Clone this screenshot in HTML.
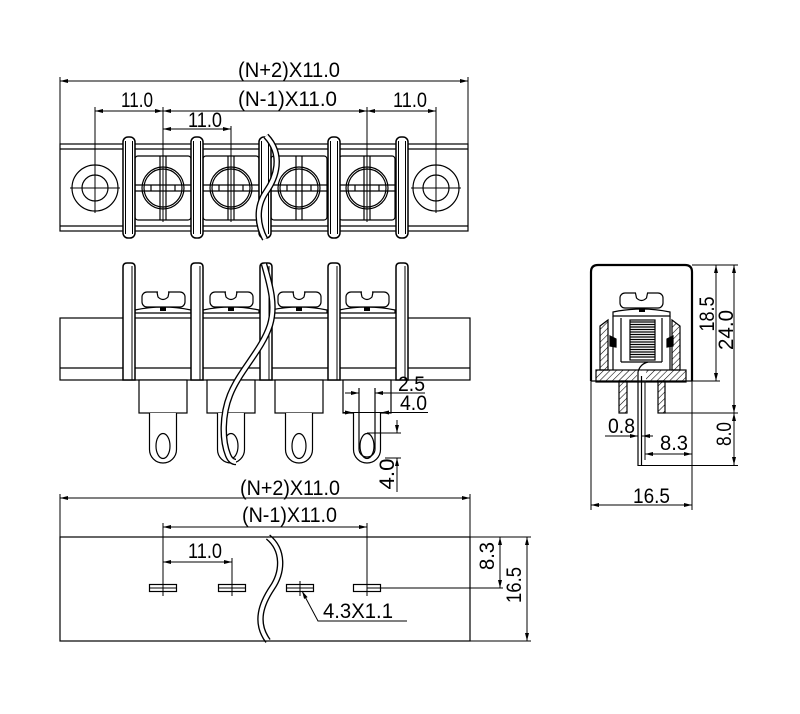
<!DOCTYPE html>
<html><head><meta charset="utf-8"><style>
html,body{margin:0;padding:0;background:#fff;}
svg{display:block}
text{font-family:"Liberation Sans",sans-serif;font-size:21px;fill:#000;stroke:none}
</style></head><body>
<svg width="800" height="714" viewBox="0 0 800 714" xmlns="http://www.w3.org/2000/svg">
<defs>
<pattern id="h" width="4.5" height="4.5" patternUnits="userSpaceOnUse" patternTransform="rotate(45)"><line x1="0" y1="0" x2="0" y2="4.5" stroke="#000" stroke-width="1.1"/></pattern>
</defs>
<rect x="0" y="0" width="800" height="714" fill="#fff"/>

<!-- ================= TOP VIEW ================= -->
<g fill="none" stroke="#000" stroke-width="1.2">
<rect x="60" y="144" width="408" height="87"/>
<line x1="60" y1="149" x2="468" y2="149"/>
<line x1="60" y1="226" x2="468" y2="226"/>

<circle cx="95" cy="188" r="23"/><circle cx="95" cy="188" r="13"/>
<line x1="70" y1="188" x2="120" y2="188" stroke-width="1"/>
<circle cx="436" cy="188" r="23"/><circle cx="436" cy="188" r="13"/>
<line x1="411" y1="188" x2="461" y2="188" stroke-width="1"/>

<g>
<rect x="135" y="156" width="56" height="64" rx="3"/>
<circle cx="163" cy="188" r="21"/><circle cx="163" cy="188" r="19"/>
<line x1="160" y1="156" x2="160" y2="220"/><line x1="166" y1="156" x2="166" y2="220"/>
<line x1="135" y1="185" x2="191" y2="185"/><line x1="135" y1="191" x2="191" y2="191"/>
<line x1="151" y1="185" x2="151" y2="191"/><line x1="175" y1="185" x2="175" y2="191"/>
</g>
<g>
<rect x="203" y="156" width="56" height="64" rx="3"/>
<circle cx="231" cy="188" r="21"/><circle cx="231" cy="188" r="19"/>
<line x1="228" y1="156" x2="228" y2="220"/><line x1="234" y1="156" x2="234" y2="220"/>
<line x1="203" y1="185" x2="259" y2="185"/><line x1="203" y1="191" x2="259" y2="191"/>
<line x1="219" y1="185" x2="219" y2="191"/><line x1="243" y1="185" x2="243" y2="191"/>
</g>
<g>
<rect x="271" y="156" width="56" height="64" rx="3"/>
<circle cx="299" cy="188" r="21"/><circle cx="299" cy="188" r="19"/>
<line x1="296" y1="156" x2="296" y2="220"/><line x1="302" y1="156" x2="302" y2="220"/>
<line x1="271" y1="185" x2="327" y2="185"/><line x1="271" y1="191" x2="327" y2="191"/>
<line x1="287" y1="185" x2="287" y2="191"/><line x1="311" y1="185" x2="311" y2="191"/>
</g>
<g>
<rect x="339" y="156" width="56" height="64" rx="3"/>
<circle cx="367" cy="188" r="21"/><circle cx="367" cy="188" r="19"/>
<line x1="364" y1="156" x2="364" y2="220"/><line x1="370" y1="156" x2="370" y2="220"/>
<line x1="339" y1="185" x2="395" y2="185"/><line x1="339" y1="191" x2="395" y2="191"/>
<line x1="355" y1="185" x2="355" y2="191"/><line x1="379" y1="185" x2="379" y2="191"/>
</g>

<g fill="#fff" stroke-width="1.5">
<rect x="123" y="137" width="12" height="101" rx="5"/>
<rect x="191" y="137" width="12" height="101" rx="5"/>
<rect x="259" y="137" width="12" height="101" rx="5"/>
<rect x="328" y="137" width="12" height="101" rx="5"/>
<rect x="396" y="137" width="12" height="101" rx="5"/>
</g>
<g stroke-width="1">
<line x1="125.5" y1="141" x2="125.5" y2="234"/><line x1="132.5" y1="141" x2="132.5" y2="234"/>
<line x1="193.5" y1="141" x2="193.5" y2="234"/><line x1="200.5" y1="141" x2="200.5" y2="234"/>
<line x1="261.5" y1="141" x2="261.5" y2="234"/><line x1="268.5" y1="141" x2="268.5" y2="234"/>
<line x1="330.5" y1="141" x2="330.5" y2="234"/><line x1="337.5" y1="141" x2="337.5" y2="234"/>
<line x1="398.5" y1="141" x2="398.5" y2="234"/><line x1="405.5" y1="141" x2="405.5" y2="234"/>
</g>
<path d="M266,136 C284,155 276,178 266,192 C255,208 258,226 265,239" stroke-width="6.5"/>
<path d="M266,136 C284,155 276,178 266,192 C255,208 258,226 265,239" stroke="#fff" stroke-width="3.8"/>

<g stroke-width="1">
<line x1="60" y1="77" x2="60" y2="144"/>
<line x1="468" y1="77" x2="468" y2="144"/>
<line x1="60" y1="81" x2="468" y2="81"/>
<line x1="95" y1="111" x2="436" y2="111"/>
<line x1="95" y1="107" x2="95" y2="213"/>
<line x1="163" y1="107" x2="163" y2="222"/>
<line x1="367" y1="107" x2="367" y2="222"/>
<line x1="436" y1="107" x2="436" y2="213"/>
<line x1="163" y1="129" x2="231" y2="129"/>
<line x1="231" y1="126" x2="231" y2="222"/>
</g>
</g>
<g fill="#000">
<path d="M60,81 l8,-2 v4 z"/><path d="M468,81 l-8,-2 v4 z"/>
<path d="M95,111 l8,-2 v4 z"/>
<path d="M163,111 l-8,-2 v4 z"/><path d="M163,111 l8,-2 v4 z"/>
<path d="M367,111 l-8,-2 v4 z"/><path d="M367,111 l8,-2 v4 z"/>
<path d="M436,111 l-8,-2 v4 z"/>
<path d="M163,129 l8,-2 v4 z"/><path d="M231,129 l-8,-2 v4 z"/>
</g>
<text x="238" y="77" textLength="102" lengthAdjust="spacingAndGlyphs">(N+2)X11.0</text>
<text x="238" y="106" textLength="99" lengthAdjust="spacingAndGlyphs">(N-1)X11.0</text>
<text x="121" y="107" textLength="32" lengthAdjust="spacingAndGlyphs">11.0</text>
<text x="393" y="107" textLength="34" lengthAdjust="spacingAndGlyphs">11.0</text>
<text x="188" y="127" textLength="34" lengthAdjust="spacingAndGlyphs">11.0</text>

<!-- ================= SIDE VIEW ================= -->
<g fill="none" stroke="#000" stroke-width="1.2">
<rect x="60" y="318" width="410" height="62"/>
<line x1="60" y1="368" x2="470" y2="368"/>

<g fill="#fff">
<rect x="139" y="380" width="48" height="33"/>
<rect x="207" y="380" width="48" height="33"/>
<rect x="275" y="380" width="48" height="33"/>
<rect x="343" y="380" width="48" height="33"/>
<path d="M149.5,413 L149.5,449.5 A13.5 13.5 0 0 0 176.5,449.5 L176.5,413"/>
<path d="M217.5,413 L217.5,449.5 A13.5 13.5 0 0 0 244.5,449.5 L244.5,413"/>
<path d="M285.5,413 L285.5,449.5 A13.5 13.5 0 0 0 312.5,449.5 L312.5,413"/>
<path d="M353.5,413 L353.5,449.5 A13.5 13.5 0 0 0 380.5,449.5 L380.5,413"/>
</g>
<path d="M359,388 L359,449 A8 8 0 0 0 375,449 L375,388"/>
<ellipse cx="163" cy="446" rx="7" ry="12.5"/>
<ellipse cx="231" cy="446" rx="7" ry="12.5"/>
<ellipse cx="299" cy="446" rx="7" ry="12.5"/>
<ellipse cx="367" cy="446" rx="7" ry="12.5"/>

<g fill="#fff">
<path d="M135,313 L135,310 Q163,304 191,310 L191,313 Z"/>
<path d="M203,313 L203,310 Q231,304 259,310 L259,313 Z"/>
<path d="M271,313 L271,310 Q299,304 327,310 L327,313 Z"/>
<path d="M339,313 L339,310 Q367,304 395,310 L395,313 Z"/>
<rect x="142" y="292" width="43" height="15" rx="5"/>
<rect x="210" y="292" width="43" height="15" rx="5"/>
<rect x="278" y="292" width="43" height="15" rx="5"/>
<rect x="346" y="292" width="43" height="15" rx="5"/>
</g>
<g stroke="#fff" stroke-width="2">
<line x1="158" y1="292" x2="168" y2="292"/>
<line x1="226" y1="292" x2="236" y2="292"/>
<line x1="294" y1="292" x2="304" y2="292"/>
<line x1="362" y1="292" x2="372" y2="292"/>
</g>
<path d="M157,292.3 L158,297 Q163,302 168,297 L169,292.3"/>
<path d="M225,292.3 L226,297 Q231,302 236,297 L237,292.3"/>
<path d="M293,292.3 L294,297 Q299,302 304,297 L305,292.3"/>
<path d="M361,292.3 L362,297 Q367,302 372,297 L373,292.3"/>
<g fill="#000" stroke="none">
<rect x="160" y="307" width="6" height="4"/>
<rect x="228" y="307" width="6" height="4"/>
<rect x="296" y="307" width="6" height="4"/>
<rect x="364" y="307" width="6" height="4"/>
</g>

<g fill="#fff" stroke-width="1.5">
<path d="M123,380 L123,267 Q123,263 127,263 L131,263 Q135,263 135,267 L135,380 Z"/>
<path d="M191,380 L191,267 Q191,263 195,263 L199,263 Q203,263 203,267 L203,380 Z"/>
<path d="M260,380 L260,267 Q260,263 264,263 L268,263 Q272,263 272,267 L272,380 Z"/>
<path d="M328,380 L328,267 Q328,263 332,263 L336,263 Q340,263 340,267 L340,380 Z"/>
<path d="M396,380 L396,267 Q396,263 400,263 L404,263 Q408,263 408,267 L408,380 Z"/>
</g>
<g stroke-width="1">
<line x1="132" y1="266" x2="132" y2="380"/>
<line x1="200" y1="266" x2="200" y2="380"/>
<line x1="269" y1="266" x2="269" y2="380"/>
<line x1="337" y1="266" x2="337" y2="380"/>
<line x1="405" y1="266" x2="405" y2="380"/>
</g>

<path d="M264,264 C270,285 276,305 270,325 C262,350 240,370 230,395 C222,415 222,440 228,455 C230,460 233,462 236,462" stroke-width="6.5"/>
<path d="M264,264 C270,285 276,305 270,325 C262,350 240,370 230,395 C222,415 222,440 228,455 C230,460 233,462 236,462" stroke="#fff" stroke-width="3.8"/>

<g stroke-width="1">
<line x1="345" y1="393" x2="359" y2="393"/>
<line x1="375" y1="393" x2="425" y2="393"/>
<line x1="343" y1="412.5" x2="428" y2="412.5"/>
<line x1="367" y1="433" x2="401" y2="433"/>
<line x1="397" y1="420" x2="397" y2="433"/>
<line x1="385" y1="458" x2="401" y2="458"/>
<line x1="397" y1="458" x2="397" y2="492"/>
</g>
</g>
<g fill="#000">
<path d="M359,393 l-8,-2 v4 z"/><path d="M375,393 l8,-2 v4 z"/>
<path d="M353,412.5 l-8,-2 v4 z"/><path d="M381,412.5 l8,-2 v4 z"/>
<path d="M397,433 l-2,-8 h4 z"/><path d="M397,458 l-2,8 h4 z"/>
</g>
<text x="398" y="391" textLength="27" lengthAdjust="spacingAndGlyphs">2.5</text>
<text x="400" y="410" textLength="27" lengthAdjust="spacingAndGlyphs">4.0</text>
<text transform="translate(394,474) rotate(-90)" text-anchor="middle" textLength="31" lengthAdjust="spacingAndGlyphs">4.0</text>

<!-- ================= BOTTOM VIEW ================= -->
<g fill="none" stroke="#000" stroke-width="1.2">
<path d="M268,537 C284,550 283,572 272,588 C262,603 254,622 268,641" stroke-width="6.5"/>
<path d="M268,537 C284,550 283,572 272,588 C262,603 254,622 268,641" stroke="#fff" stroke-width="3.8"/>
<rect x="60" y="537" width="410" height="104"/>
<rect x="149.5" y="584.5" width="27" height="7"/>
<rect x="218.5" y="584.5" width="27" height="7"/>
<rect x="286.5" y="584.5" width="27" height="7"/>
<rect x="353.5" y="584.5" width="27" height="7"/>
<g stroke-width="1">
<line x1="149.5" y1="588" x2="176.5" y2="588"/>
<line x1="218.5" y1="588" x2="245.5" y2="588"/>
<line x1="286.5" y1="588" x2="313.5" y2="588"/>
<line x1="367" y1="588" x2="503" y2="588"/>
<line x1="300" y1="581" x2="300" y2="596"/>
<line x1="60" y1="494" x2="60" y2="537"/>
<line x1="470" y1="494" x2="470" y2="537"/>
<line x1="60" y1="498" x2="470" y2="498"/>
<line x1="163" y1="527" x2="367" y2="527"/>
<line x1="163" y1="523" x2="163" y2="596"/>
<line x1="367" y1="523" x2="367" y2="596"/>
<line x1="163" y1="562" x2="232" y2="562"/>
<line x1="232" y1="558" x2="232" y2="596"/>
<line x1="470" y1="537" x2="531" y2="537"/>
<line x1="470" y1="641" x2="531" y2="641"/>
<line x1="500" y1="537" x2="500" y2="588"/>
<line x1="527" y1="537" x2="527" y2="641"/>
<polyline points="302,591 318,621 407,621"/>
</g>
</g>
<g fill="#000">
<path d="M60,498 l8,-2 v4 z"/><path d="M470,498 l-8,-2 v4 z"/>
<path d="M163,527 l8,-2 v4 z"/><path d="M367,527 l-8,-2 v4 z"/>
<path d="M163,562 l8,-2 v4 z"/><path d="M232,562 l-8,-2 v4 z"/>
<path d="M500,537 l-2,8 h4 z"/><path d="M500,588 l-2,-8 h4 z"/>
<path d="M527,537 l-2,8 h4 z"/><path d="M527,641 l-2,-8 h4 z"/>
<path d="M302,591 L307.6,597.1 L304.1,598.9 Z"/>
</g>
<text x="240" y="495" textLength="100" lengthAdjust="spacingAndGlyphs">(N+2)X11.0</text>
<text x="242" y="522" textLength="95" lengthAdjust="spacingAndGlyphs">(N-1)X11.0</text>
<text x="188" y="558" textLength="34" lengthAdjust="spacingAndGlyphs">11.0</text>
<text x="323" y="618" textLength="70" lengthAdjust="spacingAndGlyphs">4.3X1.1</text>
<text transform="translate(494,556) rotate(-90)" text-anchor="middle" textLength="28" lengthAdjust="spacingAndGlyphs">8.3</text>
<text transform="translate(521,585) rotate(-90)" text-anchor="middle" textLength="36" lengthAdjust="spacingAndGlyphs">16.5</text>

<!-- ================= RIGHT VIEW ================= -->
<g fill="none" stroke="#000" stroke-width="1.2">
<rect x="596" y="370" width="90" height="12" fill="url(#h)"/>
<rect x="637" y="370.6" width="9" height="11" fill="#fff" stroke="none"/>
<polygon points="600,326 608,320 608,370 600,370" fill="url(#h)"/>
<polygon points="672,320 680,326 680,370 672,370" fill="url(#h)"/>
<rect x="619" y="381" width="8" height="32" fill="url(#h)"/>
<rect x="658" y="381" width="7" height="32" fill="url(#h)"/>

<line x1="613" y1="316" x2="613" y2="370"/>
<line x1="670" y1="316" x2="670" y2="370"/>
<path d="M613,316 L613,312 Q641,306 670,312 L670,316 Z" fill="#fff"/>
<line x1="621" y1="318" x2="621" y2="362"/>
<line x1="662" y1="318" x2="662" y2="362"/>
<line x1="621" y1="362" x2="662" y2="362"/>
<path d="M610,336 L616,339 L616,347 L610,346 Z" fill="#000"/>
<path d="M673,336 L667,339 L667,347 L673,346 Z" fill="#000"/>

<rect x="630" y="320" width="25" height="40" fill="#fff"/>
<g stroke-width="1.3">
<line x1="630" y1="322" x2="655" y2="322"/><line x1="630" y1="324.5" x2="655" y2="324.5"/>
<line x1="630" y1="327" x2="655" y2="327"/><line x1="630" y1="329.5" x2="655" y2="329.5"/>
<line x1="630" y1="332" x2="655" y2="332"/><line x1="630" y1="334.5" x2="655" y2="334.5"/>
<line x1="630" y1="337" x2="655" y2="337"/><line x1="630" y1="339.5" x2="655" y2="339.5"/>
<line x1="630" y1="342" x2="655" y2="342"/><line x1="630" y1="344.5" x2="655" y2="344.5"/>
<line x1="630" y1="347" x2="655" y2="347"/><line x1="630" y1="349.5" x2="655" y2="349.5"/>
<line x1="630" y1="352" x2="655" y2="352"/><line x1="630" y1="354.5" x2="655" y2="354.5"/>
<line x1="630" y1="357" x2="655" y2="357"/>
</g>

<rect x="620" y="293" width="43" height="15" rx="5" fill="#fff"/>
<line x1="636" y1="293" x2="647" y2="293" stroke="#fff" stroke-width="2"/>
<path d="M635.5,293.3 L636.5,298 Q641.5,303 646.5,298 L647.5,293.3"/>
<rect x="639" y="308" width="6" height="4" fill="#000" stroke="none"/>

<path d="M648,362 Q640,364 638,372"/>
<line x1="638" y1="372" x2="638" y2="466"/>
<line x1="641.5" y1="376" x2="641.5" y2="466"/>
<line x1="645" y1="382" x2="645" y2="460" stroke-width="1"/>

<path d="M591,381 L591,272 Q591,265 598,265 L685,265 Q692,265 692,272 L692,381" stroke-width="2.2"/>
<line x1="591" y1="381" x2="692" y2="381"/>

<g stroke-width="1">
<line x1="692" y1="265" x2="738" y2="265"/>
<line x1="692" y1="381" x2="720" y2="381"/>
<line x1="664" y1="413" x2="738" y2="413"/>
<line x1="638" y1="465.5" x2="738" y2="465.5"/>
<line x1="716" y1="265" x2="716" y2="381"/>
<line x1="734" y1="265" x2="734" y2="465"/>
<line x1="591" y1="381" x2="591" y2="510"/>
<line x1="692" y1="381" x2="692" y2="510"/>
<line x1="591" y1="505" x2="692" y2="505"/>
<line x1="605" y1="436" x2="638" y2="436"/>
<line x1="642" y1="436" x2="653" y2="436"/>
<line x1="645" y1="454" x2="692" y2="454"/>
</g>
</g>
<g fill="#000">
<path d="M716,265 l-2,8 h4 z"/><path d="M716,381 l-2,-8 h4 z"/>
<path d="M734,265 l-2,8 h4 z"/><path d="M734,413 l-2,-8 h4 z"/>
<path d="M734,413 l-2,8 h4 z"/><path d="M734,465 l-2,-8 h4 z"/>
<path d="M591,505 l8,-2 v4 z"/><path d="M692,505 l-8,-2 v4 z"/>
<path d="M638,436 l-8,-2 v4 z"/><path d="M642,436 l8,-2 v4 z"/>
<path d="M645,454 l8,-2 v4 z"/><path d="M692,454 l-8,-2 v4 z"/>
</g>
<text transform="translate(714,314) rotate(-90)" text-anchor="middle" textLength="35" lengthAdjust="spacingAndGlyphs">18.5</text>
<text transform="translate(733,330) rotate(-90)" text-anchor="middle" textLength="40" lengthAdjust="spacingAndGlyphs">24.0</text>
<text transform="translate(731,434) rotate(-90)" text-anchor="middle" textLength="24" lengthAdjust="spacingAndGlyphs">8.0</text>
<text x="608" y="433" textLength="27" lengthAdjust="spacingAndGlyphs">0.8</text>
<text x="660" y="450" textLength="28" lengthAdjust="spacingAndGlyphs">8.3</text>
<text x="633" y="503" textLength="37" lengthAdjust="spacingAndGlyphs">16.5</text>
</svg>
</body></html>
